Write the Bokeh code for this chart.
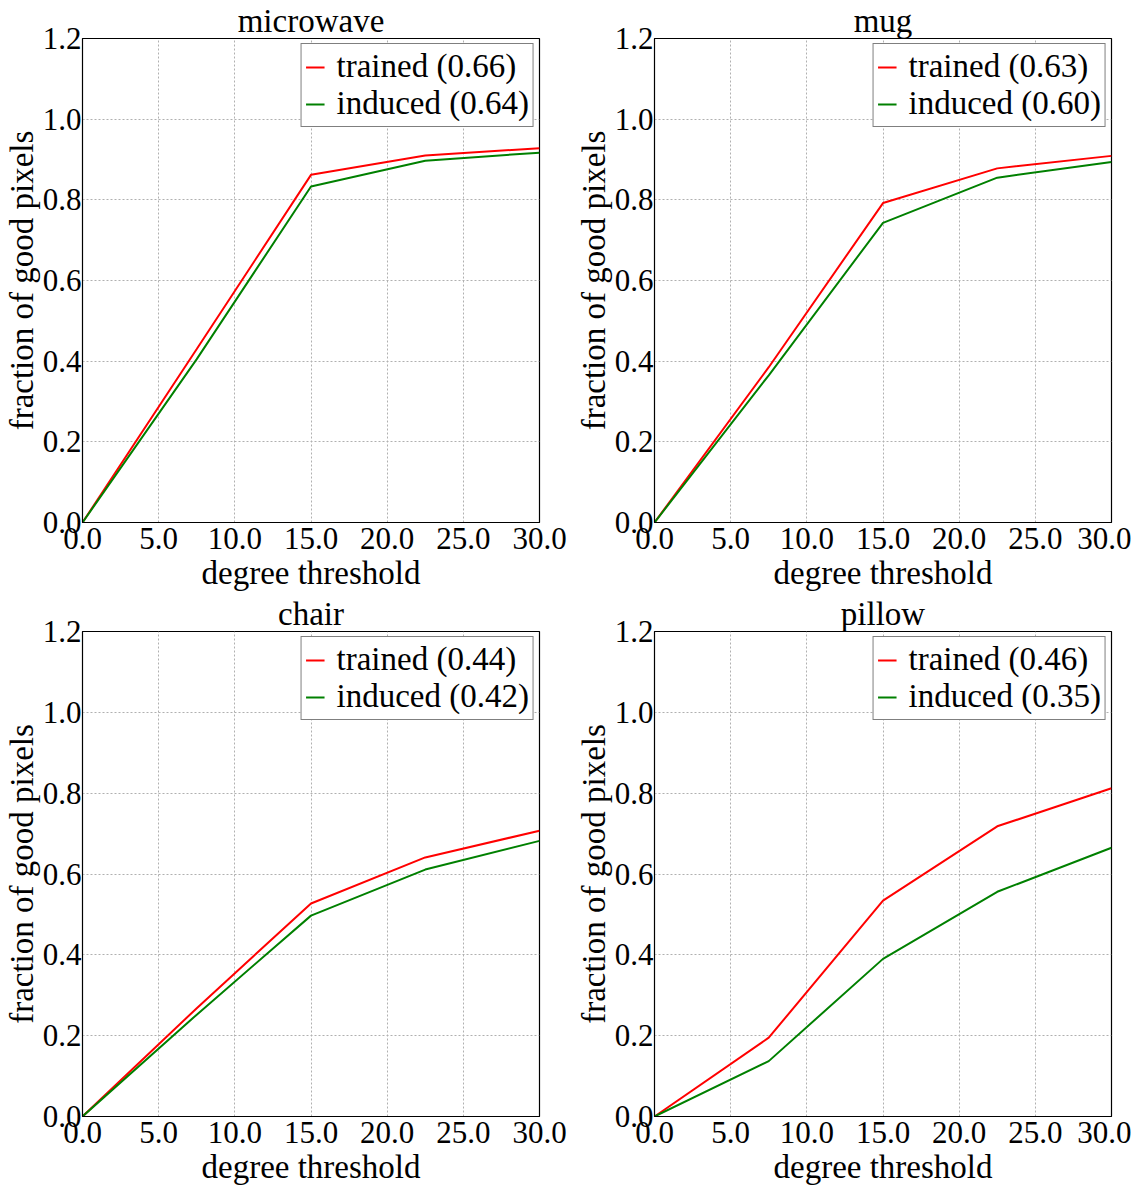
from bokeh.plotting import figure
from bokeh.layouts import row, column
from bokeh.models import FixedTicker, NumeralTickFormatter, Range1d, Legend, LegendItem
from bokeh.embed import file_html
from bokeh.resources import INLINE

# ---- data ----
thresholds = [0.0, 7.5, 15.0, 22.5, 30.0]
categories = ["microwave", "mug", "chair", "pillow"]

microwave_trained = [0.0, 0.430, 0.862, 0.910, 0.928]
microwave_induced = [0.0, 0.405, 0.833, 0.897, 0.917]
mug_trained = [0.0, 0.385, 0.792, 0.878, 0.909]
mug_induced = [0.0, 0.365, 0.743, 0.855, 0.894]
chair_trained = [0.0, 0.268, 0.527, 0.641, 0.707]
chair_induced = [0.0, 0.252, 0.497, 0.611, 0.682]
pillow_trained = [0.0, 0.195, 0.534, 0.718, 0.812]
pillow_induced = [0.0, 0.137, 0.390, 0.556, 0.665]

trained_auc = ["0.66", "0.63", "0.44", "0.46"]
induced_auc = ["0.64", "0.60", "0.42", "0.35"]

x_ticks = [0, 5, 10, 15, 20, 25, 30]
y_ticks = [0.0, 0.2, 0.4, 0.6, 0.8, 1.0, 1.2]

series = {
    "microwave": (microwave_trained, microwave_induced),
    "mug": (mug_trained, mug_induced),
    "chair": (chair_trained, chair_induced),
    "pillow": (pillow_trained, pillow_induced),
}

FONT = "Liberation Serif"


def make_panel(idx, name, right_col, top_row):
    tr, ind = series[name]
    p = figure(
        frame_width=457, frame_height=(484 if top_row else 485),
        x_range=Range1d(0, 30), y_range=Range1d(0, 1.2),
        output_backend="svg", toolbar_location=None,
        min_border_left=74,
        min_border_right=(20 if right_col else 33),
        min_border_top=30,
        min_border_bottom=10,
        title=name,
    )
    p.title.text_font = FONT
    p.title.text_font_size = "33px"
    p.title.text_font_style = "normal"
    p.title.text_color = "black"
    p.title.align = "center"
    p.title.standoff = 0
    p.title.offset = 0
    p.title.text_line_height = 0.9

    r1 = p.line(thresholds, tr, line_color="#ff0000", line_width=2)
    r2 = p.line(thresholds, ind, line_color="#008000", line_width=2)

    legend = Legend(items=[
        LegendItem(label="trained (%s)" % trained_auc[idx], renderers=[r1]),
        LegendItem(label="induced (%s)" % induced_auc[idx], renderers=[r2]),
    ])
    legend.location = "top_right"
    legend.margin = 5
    legend.padding = 4
    legend.spacing = 0
    legend.border_line_color = "black"
    legend.border_line_width = 1.2
    legend.background_fill_color = "white"
    legend.background_fill_alpha = 1.0
    legend.label_text_font = FONT
    legend.label_text_font_size = "33px"
    legend.label_text_color = "black"
    legend.label_text_line_height = 0.9
    legend.glyph_width = 19
    legend.label_standoff = 12
    legend.label_height = 30
    legend.glyph_height = 30
    p.add_layout(legend, "center")

    p.xaxis.ticker = FixedTicker(ticks=x_ticks)
    p.yaxis.ticker = FixedTicker(ticks=y_ticks)
    p.xaxis.formatter = NumeralTickFormatter(format="0.0")
    p.yaxis.formatter = NumeralTickFormatter(format="0.0")
    p.xaxis.axis_label = "degree threshold"
    p.yaxis.axis_label = "fraction of good pixels"
    for ax in (p.xaxis, p.yaxis):
        ax.axis_label_text_font = FONT
        ax.axis_label_text_font_size = "33px"
        ax.axis_label_text_font_style = "normal"
        ax.major_label_text_font = FONT
        ax.major_label_text_font_size = "31px"
        ax.major_label_text_color = "black"
        ax.axis_label_text_color = "black"
        ax.major_tick_in = 0
        ax.major_tick_out = 0
        ax.minor_tick_in = 0
        ax.minor_tick_out = 0
        ax.axis_line_color = "black"
    p.xaxis.axis_label_standoff = 3
    p.yaxis.axis_label_standoff = 0
    p.xaxis.major_label_standoff = 5
    p.yaxis.major_label_standoff = 1

    p.grid.grid_line_color = "#b0b0b0"
    p.grid.grid_line_dash = "2 2"
    p.grid.grid_line_width = 1
    p.outline_line_color = "black"
    p.outline_line_width = 1.2
    p.outline_line_alpha = 1.0
    p.background_fill_color = "white"
    p.border_fill_color = "white"
    return p


panels = []
for i, name in enumerate(categories):
    panels.append(make_panel(i, name, right_col=(i % 2 == 1), top_row=(i < 2)))

layout = column(row(panels[0], panels[1]), row(panels[2], panels[3]), spacing=0)

open("out.html", "w").write(file_html(layout, INLINE))
